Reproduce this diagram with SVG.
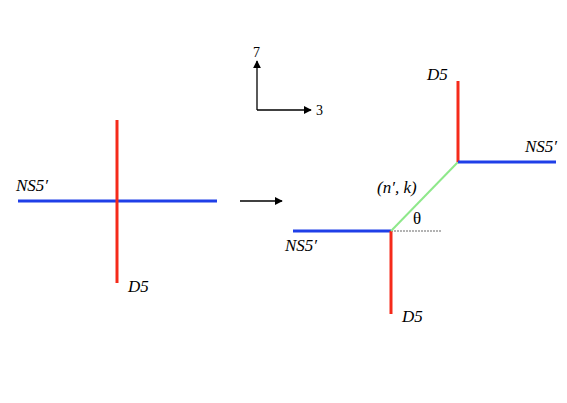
<svg xmlns="http://www.w3.org/2000/svg" width="567" height="403" viewBox="0 0 567 403">
<style>
.t{font-family:"Liberation Serif",serif;font-style:italic;font-size:17px;fill:#000}
.n{font-family:"Liberation Serif",serif;font-size:14px;fill:#000}
.th{font-family:"Liberation Serif",serif;font-size:17px;fill:#000}
.b{stroke:#1f3fe8;stroke-width:3;fill:none}
.r{stroke:#f52a1a;stroke-width:3;fill:none}
.g{stroke:#8ee88a;stroke-width:2;fill:none}
.k{stroke:#000;stroke-width:1.3;fill:none}
</style>
<defs>
<marker id="ah" viewBox="0 0 10 10" refX="9" refY="5" markerWidth="8" markerHeight="8" markerUnits="userSpaceOnUse" orient="auto">
<path d="M0,0 L10,5 L0,10 z" fill="#000"/>
</marker>
</defs>
<rect width="567" height="403" fill="#fff"/>
<g id="left">
<line class="b" x1="18" y1="201" x2="217" y2="201"/>
<line class="r" x1="117" y1="120" x2="117" y2="283"/>
<text class="t" x="16" y="191">NS5′</text>
<text class="t" x="128" y="292">D5</text>
</g>
<g id="axes">
<line class="k" x1="257" y1="110" x2="257" y2="61" marker-end="url(#ah)"/>
<line class="k" x1="257" y1="110" x2="311" y2="110" marker-end="url(#ah)"/>
<text class="n" x="253" y="57">7</text>
<text class="n" x="316" y="115">3</text>
</g>
<g id="connectors">
<line class="k" x1="240" y1="201" x2="282" y2="201" marker-end="url(#ah)"/>
</g>
<g id="right">
<line stroke="#000" stroke-width="0.6" stroke-dasharray="2,1" x1="391" y1="231" x2="441" y2="231"/>
<line class="b" x1="293" y1="231" x2="391" y2="231"/>
<line class="r" x1="391" y1="231" x2="391" y2="314"/>
<line class="g" x1="391" y1="231" x2="458" y2="162"/>
<line class="r" x1="458" y1="81" x2="458" y2="162"/>
<line class="b" x1="458" y1="162" x2="556" y2="162"/>
<text class="t" x="427" y="80">D5</text>
<text class="t" x="525" y="152">NS5′</text>
<text class="t" x="285" y="251">NS5′</text>
<text class="t" x="402" y="322">D5</text>
<text class="t" x="377" y="193">(n′, k)</text>
<text class="th" x="413" y="224">θ</text>
</g>
</svg>
